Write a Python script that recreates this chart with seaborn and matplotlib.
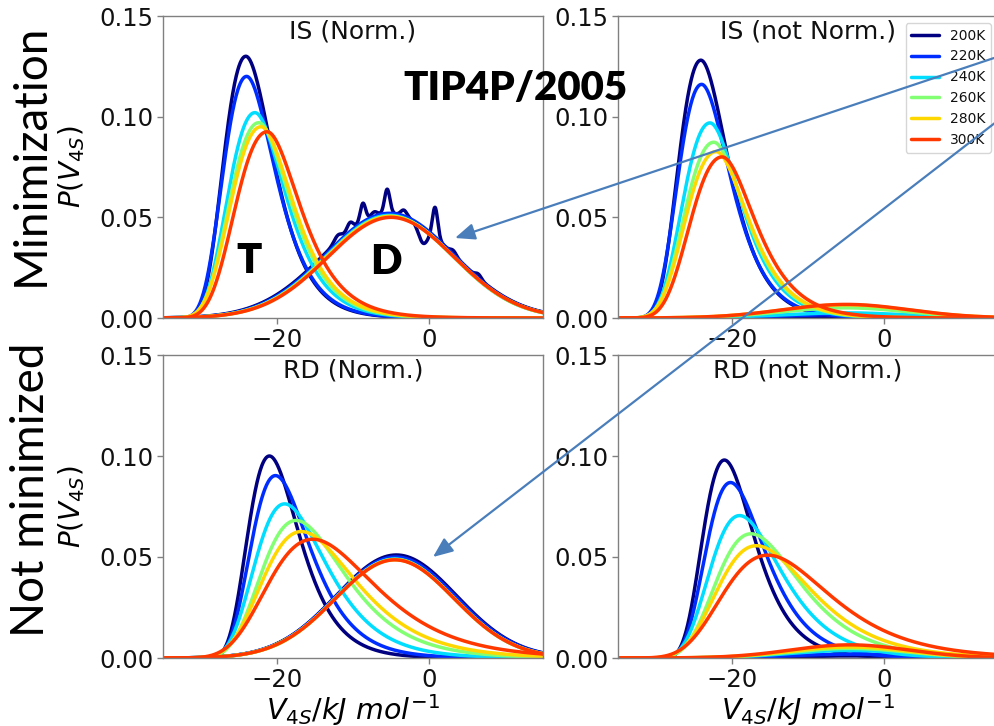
import numpy as np
import pandas as pd
import matplotlib
matplotlib.use("Agg")
import matplotlib.pyplot as plt
import seaborn as sns
from matplotlib.patches import FancyArrowPatch
from matplotlib.lines import Line2D
from matplotlib.ticker import FormatStrFormatter

# ---------------------------------------------------------------------------
# Temperatures and the peak parameters of the two V4S populations (T and D)
# ---------------------------------------------------------------------------
temps = ["200K", "220K", "240K", "260K", "280K", "300K"]

# inherent structures (minimized), T population: mode, height, left/right widths
is_t_peak = [-24.1, -24.0, -22.9, -22.4, -22.1, -21.3]
is_t_height = [0.130, 0.120, 0.102, 0.097, 0.095, 0.0925]
is_t_wleft = [3.4, 3.6, 4.1, 4.4, 4.6, 4.8]
is_t_wright = [3.05, 3.15, 3.35, 3.45, 3.5, 3.6]
# inherent structures, D population
is_d_peak = [-5.3, -5.2, -5.2, -5.1, -5.1, -5.0]
is_d_height = [0.052, 0.052, 0.051, 0.0505, 0.0505, 0.050]
is_d_width = [8.5, 8.4, 8.3, 8.3, 8.3, 8.3]
# fraction of T molecules (weights used for the not-normalized panels)
is_t_fraction = [0.985, 0.967, 0.950, 0.900, 0.870, 0.865]
# sampling spikes of the sparse 200K D histogram
is_noise_x = [-12.0, -10.4, -8.7, -7.2, -5.5, -3.3, -0.8, 0.8, 3.2, 6.5]
is_noise_dy = [0.003, 0.004, 0.009, 0.002, 0.012, 0.003, -0.008, 0.015, 0.002, 0.002]
is_noise_w = [0.5, 0.4, 0.35, 0.4, 0.35, 0.4, 0.6, 0.35, 0.4, 0.4]

# real dynamics (not minimized), T population
rd_t_peak = [-21.0, -20.2, -19.0, -17.5, -16.8, -15.3]
rd_t_height = [0.100, 0.0903, 0.0763, 0.0681, 0.0626, 0.0588]
rd_t_wleft = [3.35, 3.8, 4.6, 5.4, 6.0, 7.0]
rd_t_wright = [3.3, 3.8, 4.6, 5.4, 6.0, 6.9]
# real dynamics, D population
rd_d_peak = [-4.3, -4.4, -4.5, -4.5, -4.5, -4.5]
rd_d_height = [0.051, 0.050, 0.049, 0.0488, 0.0487, 0.0486]
rd_d_width = [7.9, 7.9, 7.8, 7.8, 7.8, 7.8]
rd_t_fraction = [0.980, 0.962, 0.924, 0.903, 0.888, 0.866]

panel_titles = ["IS (Norm.)", "IS (not Norm.)", "RD (Norm.)", "RD (not Norm.)"]
row_labels = ["Minimization", "Not minimized"]
x_ticks = [-20, 0]
y_ticks = [0.00, 0.05, 0.10, 0.15]

# ---------------------------------------------------------------------------
V = np.linspace(-35, 15, 1201)


def t_shape(x, mode, height, wl, wr):
    """Skewed (two-sided Gumbel) peak with the given mode and height."""
    z = np.where(x < mode, (x - mode) / wl, (x - mode) / wr)
    return height * np.exp(1.0 - z - np.exp(-z))


def d_shape(x, mode, height, w):
    return height * np.exp(-0.5 * ((x - mode) / w) ** 2)


def panel_frame(row, normalized):
    if row == 0:
        tp, th, twl, twr = is_t_peak, is_t_height, is_t_wleft, is_t_wright
        dp, dh, dw, frac = is_d_peak, is_d_height, is_d_width, is_t_fraction
    else:
        tp, th, twl, twr = rd_t_peak, rd_t_height, rd_t_wleft, rd_t_wright
        dp, dh, dw, frac = rd_d_peak, rd_d_height, rd_d_width, rd_t_fraction
    parts = []
    for i, T in enumerate(temps):
        pt = t_shape(V, tp[i], th[i], twl[i], twr[i])
        pd_ = d_shape(V, dp[i], dh[i], dw[i])
        if row == 0 and i == 0:
            for cx, dy, w in zip(is_noise_x, is_noise_dy, is_noise_w):
                pd_ = pd_ + dy * np.exp(-0.5 * ((V - cx) / w) ** 2)
        if not normalized:
            pt = pt * frac[i]
            pd_ = pd_ * (1.0 - frac[i])
        parts.append(pd.DataFrame({"V": V, "P": pt, "T": T, "comp": "T"}))
        parts.append(pd.DataFrame({"V": V, "P": pd_, "T": T, "comp": "D"}))
    return pd.concat(parts, ignore_index=True)


# ---------------------------------------------------------------------------
sns.set_style("ticks")
plt.rcParams["font.family"] = ["DejaVu Sans"]
plt.rcParams["mathtext.fontset"] = "dejavusans"
plt.rcParams["text.color"] = "black"
plt.rcParams["axes.labelcolor"] = "black"

W, H = 994, 726
fig = plt.figure(figsize=(W / 100, H / 100), dpi=100)
fig.patch.set_facecolor("white")

colors = plt.cm.jet(np.linspace(0.0, 0.85, len(temps)))
palette = dict(zip(temps, colors))


def px_axes(left, top, right, bottom):
    return fig.add_axes([left / W, 1 - bottom / H, (right - left) / W, (bottom - top) / H])


boxes = [(163, 16, 543, 318), (618, 16, 998, 318), (163, 355, 543, 658), (618, 355, 998, 658)]
axes = []
for k, box in enumerate(boxes):
    row, col = divmod(k, 2)
    ax = px_axes(*box)
    df = panel_frame(row, normalized=(col == 0))
    sns.lineplot(data=df, x="V", y="P", hue="T", hue_order=temps, units="comp",
                 estimator=None, sort=False, palette=palette, linewidth=2.5,
                 legend=False, ax=ax)
    ax.set_xlim(-35, 15)
    ax.set_ylim(0, 0.15)
    ax.set_xticks(x_ticks)
    ax.set_yticks(y_ticks)
    ax.yaxis.set_major_formatter(FormatStrFormatter("%.2f"))
    ax.tick_params(labelsize=17.5, length=4, width=1, color="#808080",
                   labelcolor="#111111", pad=3)
    for sp in ax.spines.values():
        sp.set_color("#808080")
        sp.set_linewidth(1.0)
    ax.text(0.5, 1 - 3 / 302, panel_titles[k], transform=ax.transAxes,
            ha="center", va="top", fontsize=18, color="#111111")
    if row == 1:
        ax.set_xlabel(r"$V_{4S}/kJ\ mol^{-1}$", fontsize=20.5, labelpad=0)
    else:
        ax.set_xlabel("")
    if col == 0:
        ax.set_ylabel(r"$P(V_{4S})$", fontsize=20, labelpad=9)
    else:
        ax.set_ylabel("")
    axes.append(ax)

handles = [Line2D([], [], color=palette[T], lw=2.5) for T in temps]
leg = axes[1].legend(handles, temps, loc="upper right", fontsize=10, frameon=True,
                     handlelength=2.0, handletextpad=0.8, labelspacing=0.5)
for txt in leg.get_texts():
    txt.set_color("#111111")

# row labels and annotations
side_font = ["Lato", "DejaVu Sans"]
fig.text(31 / W, 1 - 155 / H, row_labels[0], rotation=90, ha="center", va="center",
         fontsize=33, family=side_font, color="black")
fig.text(31 / W, 1 - 490 / H, row_labels[1], rotation=90, ha="center", va="center",
         fontsize=33, family=side_font, color="black")
fig.text(516 / W, 1 - 89 / H, "TIP4P/2005", ha="center", va="center",
         fontsize=29, fontweight="heavy", family=side_font, color="black")
fig.text(249 / W, 1 - 261 / H, "T", ha="center", va="center",
         fontsize=30, fontweight="heavy", family=side_font, color="black")
fig.text(386 / W, 1 - 262 / H, "D", ha="center", va="center",
         fontsize=30, fontweight="heavy", family=side_font, color="black")

arrow_color = "#4a7ebb"
for tail, head in [((1000, 56), (455, 238)), ((1000, 119), (433, 557))]:
    arr = FancyArrowPatch((tail[0] / W, 1 - tail[1] / H), (head[0] / W, 1 - head[1] / H),
                          transform=fig.transFigure,
                          arrowstyle="-|>,head_length=0.6,head_width=0.25",
                          mutation_scale=20, lw=1.6, color=arrow_color,
                          shrinkA=0, shrinkB=0, zorder=10)
    fig.add_artist(arr)

fig.savefig("out.png", dpi=100, facecolor="white")
